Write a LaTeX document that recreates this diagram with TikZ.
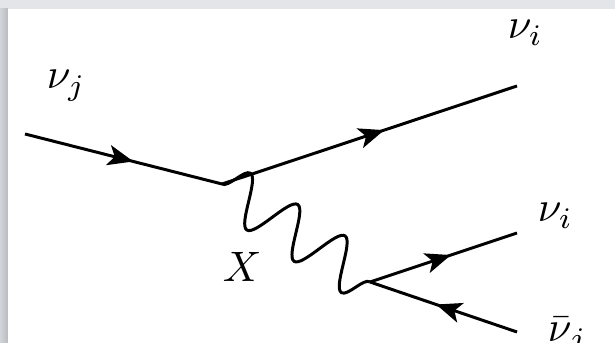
\documentclass[tikz,border=0pt]{standalone}
\usetikzlibrary{arrows.meta,decorations.markings,decorations.pathmorphing}
\definecolor{framegray}{RGB}{228,229,232}
\definecolor{edgegray}{RGB}{184,187,192}
\begin{document}
\begin{tikzpicture}[x=23.5pt, y=23.5pt,
    fermion/.style={line width=0.7pt, postaction={decorate},
      decoration={markings, mark=at position 0.55 with {\arrow{Stealth[length=6pt,width=4.8pt,inset=1.5pt]}}}},
    photon/.style={line width=0.7pt, decorate,
      decoration={snake, amplitude=5.8pt, segment length=13.33pt}},
    particle/.style={inner sep=0pt, anchor=base west}
  ]

  % Frame
  \fill[framegray] (0,0) rectangle (6.15,3.43);
  \shade[left color=framegray!60!edgegray, right color=edgegray] (0,0) rectangle (0.08,3.34);
  \fill[white] (0.08,0) rectangle (6.15,3.34);
  \useasboundingbox (0,0) rectangle (6.15,3.43);

  % Vertices
  \coordinate (v1) at (2.22, 1.59);
  \coordinate (v2) at (3.70, 0.61);

  % External legs
  \coordinate (nuj) at (0.25, 2.09);
  \coordinate (nui) at (5.17, 2.57);
  \coordinate (nuiout) at (5.17, 1.10);
  \coordinate (nubarj) at (5.17, 0.11);

  % Labels
  \node[particle] (Lnuj) at (0.46, 2.54) {$\nu_j$};
  \node[particle] (Lnui) at (5.07, 3.04) {$\nu_i$};
  \node[particle] (Lnuiout) at (5.37, 1.21) {$\nu_i$};
  \node[particle] (Lnubarj) at (5.47, 0.01) {$\bar{\nu}_j$};
  \node[particle] (LX) at (2.22, 0.61) {$X$};

  % Fermion lines
  \draw[fermion] (nuj) -- (v1);
  \draw[fermion] (v1) -- (nui);
  \draw[fermion] (v2) -- (nuiout);
  \draw[fermion] (nubarj) -- (v2);

  % Exchanged boson
  \draw[photon] (v1) -- (v2);

\end{tikzpicture}
\end{document}
